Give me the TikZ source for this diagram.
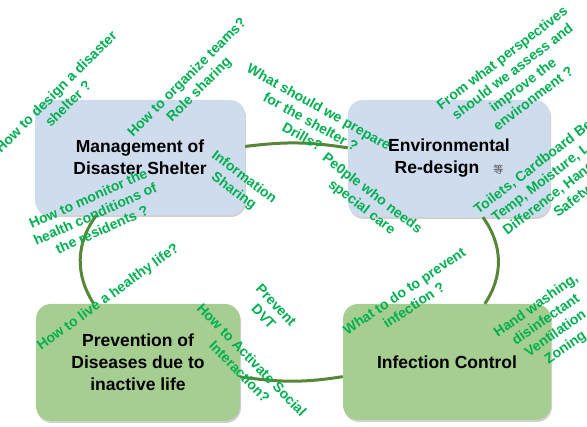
\documentclass[tikz,border=0pt]{standalone}
\usepackage{fontspec}
\setmainfont{Liberation Sans}
\newfontfamily\cjkfont{Noto Sans CJK JP}
\usetikzlibrary{positioning,shadows}
\definecolor{shelterblue}{RGB}{207,220,238}
\definecolor{healthgreen}{RGB}{165,206,144}
\definecolor{linkgreen}{RGB}{88,134,56}
\definecolor{notegreen}{RGB}{0,176,80}
\tikzstyle{topic} = [rectangle, rounded corners=15pt, text centered, align=center, font=\fontsize{17.5}{22}\selectfont\bfseries, drop shadow={shadow xshift=1pt, shadow yshift=-2pt, fill=black!30, opacity=0.6}]
\tikzstyle{link} = [line width=3pt, draw=linkgreen]
\tikzset{
 blu/.style
  = {topic, fill=shelterblue},
 grn/.style
  = {topic, fill=healthgreen},
 note/.style
  = {text=notegreen, align=center, inner sep=0pt, font=\fontsize{14}{17}\selectfont\bfseries},
}

\begin{document}
\begin{tikzpicture}[x=1pt, y=1pt, node distance=205pt]
\useasboundingbox (0,0) rectangle (587,427);
\clip (0,0) rectangle (587,427);
\node (mgmt) [blu, minimum width=210pt, minimum height=115pt] at (140,269.5) {Management of\\Disaster Shelter};
\node (env) [blu, minimum width=202pt, minimum height=117pt, right of=mgmt, xshift=104pt, yshift=-1pt] {Environmental\\Re-design\hspace{14pt}{\cjkfont\mdseries\fontsize{10}{10}\selectfont\color{black!70}等}};
\node (prev) [grn, minimum width=204pt, minimum height=117pt, below of=mgmt, xshift=-2pt] {Prevention of\\Diseases due to\\inactive life};
\node (inf) [grn, minimum width=208pt, minimum height=116pt, right of=prev, xshift=104pt, yshift=0.5pt] {Infection Control};
\draw [link] (mgmt.6) to[out=7, in=171] (env.174);
\draw [link] (env.-60) to[out=-54, in=56] (inf.57);
\draw [link] (inf.188) to[out=189, in=-8] (prev.-8.5);
\draw [link] (prev.127.6) to[out=123, in=-127] (mgmt.233);
% questions and answers
\node (design) [note, rotate=45] at (62,329.5) {How to design a disaster\\shelter ?};
\node (teams) [note, rotate=45] at (193.5,343) {How to organize teams?\\Role sharing};
\node (info) [note, rotate=-37] at (238.7,242.4) {Information\\Sharing};
\node (monitor) [note, rotate=24] at (95,213) {How to monitor the\\health conditions of\\the residents ?};
\node (healthy) [note, rotate=36] at (108.5,129.5) {How to live a healthy life?};
\node (dvt) [note, rotate=-47] at (270,116.2) {Prevent\\DVT};
\node (activate) [note, rotate=-46] at (245.8,61.2) {How to Activate Social\\Interaction?};
\node (prepare) [note, rotate=-29] at (310.8,305.3) {What should we prepare\\for the shelter ?\\Drills?};
\node (people) [note, rotate=-37.5] at (366.7,226.2) {Pe0ple who needs\\special care};
\node (perspect) [note, rotate=37.5] at (517.5,349) {From what perspectives\\should we assess and\\improve the\\environment ?};
\node (toilets) [note, rotate=37.5] at (557,245) {Toilets, Cardboard Beds,\\Temp, Moisture, Level\\Difference, Handrails,\\Safety};
\node (prevent) [note, rotate=34] at (409,129) {What to do to prevent\\infection ?};
\node (washing) [note, rotate=35] at (551,100) {Hand washing,\\disinfectant\\Ventilation\\Zoning};
\end{tikzpicture}
\end{document}
